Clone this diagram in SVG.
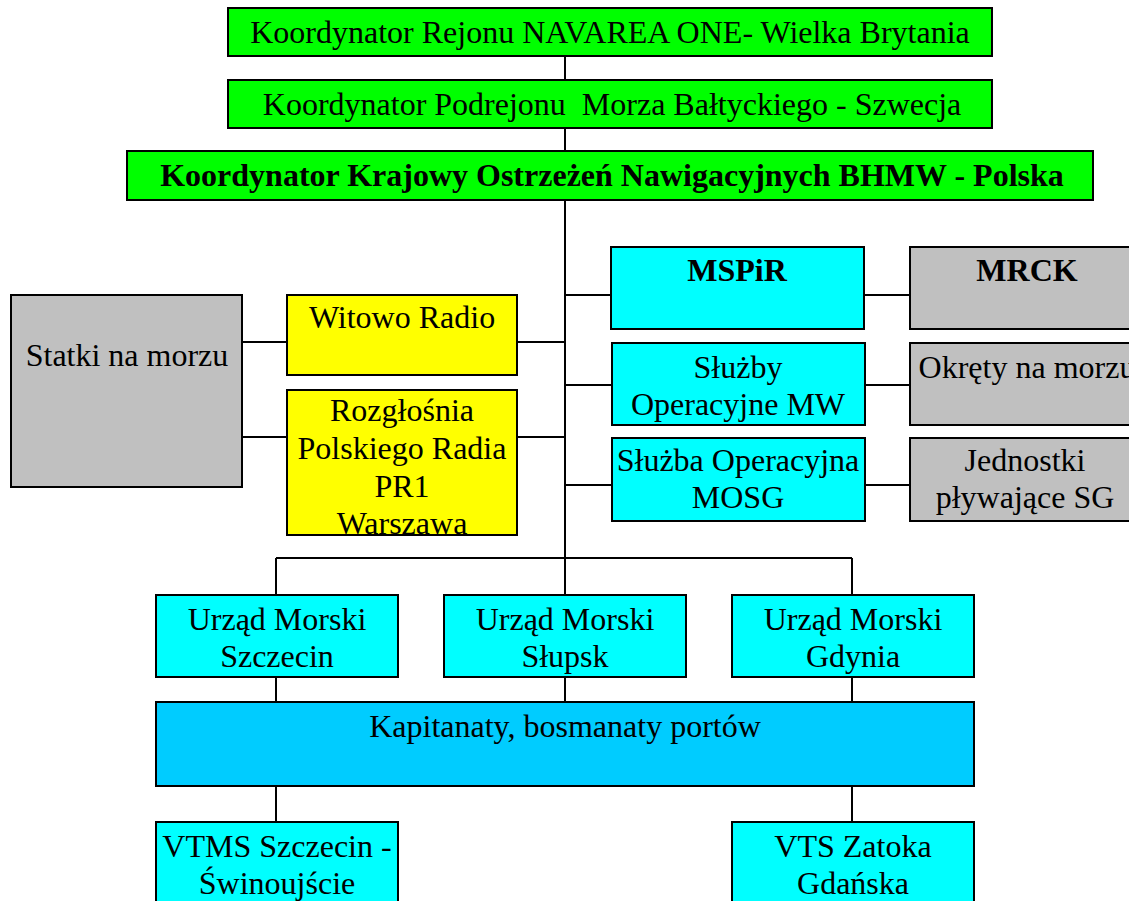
<svg xmlns="http://www.w3.org/2000/svg" width="1129" height="901" viewBox="0 0 1129 901" font-family="'Liberation Serif', Tinos, 'Times New Roman', 'DejaVu Serif', serif">
<style>
text{font-family:'Liberation Serif', Tinos, 'Times New Roman', 'DejaVu Serif', serif;font-size:32px;fill:#000;text-anchor:middle}
.b{font-weight:bold}
.box{stroke:#000;stroke-width:2}
.green{fill:#00FF00}.yellow{fill:#FFFF00}.cyan{fill:#00FFFF}.gray{fill:#C0C0C0}.blue{fill:#00CCFF}
#connectors line{stroke:#000;stroke-width:2}
</style>
<rect x="0" y="0" width="1129" height="901" fill="#fff"/>
<g id="connectors">
<line x1="565" y1="56" x2="565" y2="80"/>
<line x1="565" y1="128" x2="565" y2="151"/>
<line x1="565" y1="200" x2="565" y2="595"/>
<line x1="565" y1="677" x2="565" y2="702"/>
<line x1="242" y1="342" x2="287" y2="342"/>
<line x1="242" y1="437" x2="287" y2="437"/>
<line x1="517" y1="342" x2="565" y2="342"/>
<line x1="517" y1="437" x2="565" y2="437"/>
<line x1="565" y1="295" x2="611" y2="295"/>
<line x1="864" y1="295" x2="910" y2="295"/>
<line x1="565" y1="385" x2="612" y2="385"/>
<line x1="865" y1="385" x2="910" y2="385"/>
<line x1="565" y1="485" x2="612" y2="485"/>
<line x1="865" y1="485" x2="910" y2="485"/>
<line x1="276" y1="558" x2="852" y2="558"/>
<line x1="276" y1="558" x2="276" y2="595"/>
<line x1="852" y1="558" x2="852" y2="595"/>
<line x1="276" y1="677" x2="276" y2="702"/>
<line x1="852" y1="677" x2="852" y2="702"/>
<line x1="276" y1="786" x2="276" y2="822"/>
<line x1="852" y1="786" x2="852" y2="822"/>
</g>
<g id="n-navarea"><rect class="box green" x="228" y="8" width="764" height="48"/><text x="610" y="43">Koordynator Rejonu NAVAREA ONE- Wielka Brytania</text></g>
<g id="n-baltyk"><rect class="box green" x="228" y="80" width="764" height="48"/><text x="612" y="115" xml:space="preserve">Koordynator Podrejonu  Morza Bałtyckiego - Szwecja</text></g>
<g id="n-bhmw"><rect class="box green" x="127" y="151" width="966" height="49"/><text class="b" x="612" y="186">Koordynator Krajowy Ostrzeżeń Nawigacyjnych BHMW - Polska</text></g>
<g id="n-statki"><rect class="box gray" x="11" y="295" width="231" height="192"/><text x="127" y="366">Statki na morzu</text></g>
<g id="n-witowo"><rect class="box yellow" x="287" y="295" width="230" height="80"/><text x="402" y="328">Witowo Radio</text></g>
<g id="n-pr1"><rect class="box yellow" x="287" y="390" width="230" height="145"/><text x="402" y="421">Rozgłośnia</text><text x="402" y="459">Polskiego Radia</text><text x="402" y="497">PR1</text><text x="402" y="534">Warszawa</text></g>
<g id="n-mspir"><rect class="box cyan" x="611" y="247" width="253" height="82"/><text class="b" x="737" y="281">MSPiR</text></g>
<g id="n-mrck"><rect class="box gray" x="910" y="247" width="234" height="82"/><text class="b" x="1027" y="281">MRCK</text></g>
<g id="n-mw"><rect class="box cyan" x="612" y="343" width="253" height="82"/><text x="738" y="378">Służby</text><text x="738" y="415">Operacyjne MW</text></g>
<g id="n-okrety"><rect class="box gray" x="910" y="343" width="234" height="82"/><text x="1027" y="378">Okręty na morzu</text></g>
<g id="n-mosg"><rect class="box cyan" x="612" y="438" width="253" height="83"/><text x="738" y="471">Służba Operacyjna</text><text x="738" y="508">MOSG</text></g>
<g id="n-jednostki"><rect class="box gray" x="910" y="438" width="234" height="83"/><text x="1025" y="471">Jednostki</text><text x="1025" y="508">pływające SG</text></g>
<g id="n-um-szczecin"><rect class="box cyan" x="156" y="595" width="242" height="82"/><text x="277" y="630">Urząd Morski</text><text x="277" y="667">Szczecin</text></g>
<g id="n-um-slupsk"><rect class="box cyan" x="444" y="595" width="242" height="82"/><text x="565" y="630">Urząd Morski</text><text x="565" y="667">Słupsk</text></g>
<g id="n-um-gdynia"><rect class="box cyan" x="732" y="595" width="242" height="82"/><text x="853" y="630">Urząd Morski</text><text x="853" y="667">Gdynia</text></g>
<g id="n-kapitanaty"><rect class="box blue" x="156" y="702" width="818" height="84"/><text x="565" y="737">Kapitanaty, bosmanaty portów</text></g>
<g id="n-vtms"><rect class="box cyan" x="156" y="822" width="242" height="90"/><text x="277" y="857">VTMS Szczecin -</text><text x="277" y="894">Świnoujście</text></g>
<g id="n-vts"><rect class="box cyan" x="732" y="822" width="242" height="90"/><text x="853" y="857">VTS Zatoka</text><text x="853" y="894">Gdańska</text></g>
</svg>
